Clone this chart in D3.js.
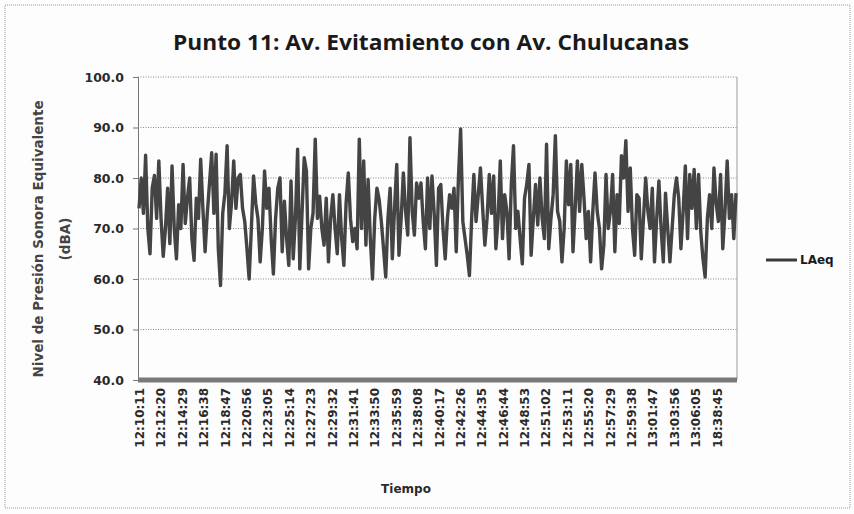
<!DOCTYPE html>
<html>
<head>
<meta charset="utf-8">
<script src="https://cdn.jsdelivr.net/npm/d3@7/dist/d3.min.js"></script>
<style>
  body { margin: 0; background: #fdfdfd; }
  svg { display: block; }
</style>
</head>
<body>
<svg id="chart" width="854" height="514"></svg>
<script>
/* Punto 11 - LAeq line chart */

// data
const chartTitle = "Punto 11: Av. Evitamiento con Av. Chulucanas";
const timeLabels = ["12:10:11", "12:12:20", "12:14:29", "12:16:38", "12:18:47", "12:20:56", "12:23:05",
    "12:25:14", "12:27:23", "12:29:32", "12:31:41", "12:33:50", "12:35:59", "12:38:08", "12:40:17",
    "12:42:26", "12:44:35", "12:46:44", "12:48:53", "12:51:02", "12:53:11", "12:55:20", "12:57:29",
    "12:59:38", "13:01:47", "13:03:56", "13:06:05", "18:38:45"];
const yTicks = [40, 50, 60, 70, 80, 90, 100];
const seriesName = "LAeq";
const laeq = [
    74, 80, 73, 84.5, 70, 65, 78, 80.5, 72, 83.4, 72, 64.5, 70, 78, 67, 82.4, 70, 64, 74.7, 70, 82.7, 71, 76,
    80, 68, 63.7, 76, 72, 83.7, 74, 65.4, 73, 79, 85, 73, 84.7, 66, 58.7, 73, 77, 86.4, 70, 75, 83.4, 74, 80,
    80.7, 74, 71.4, 66, 60, 70, 80.4, 75, 72, 63.4, 70, 81.4, 74, 78, 68, 61, 72, 78, 80, 65.4, 75.4, 68, 62.7,
    79.4, 64, 72, 85.7, 62, 73, 84, 81.4, 62, 70, 73, 87.7, 72, 76.4, 70, 66.7, 76, 63.4, 72, 76.7, 70, 65,
    76.7, 68, 62.7, 75, 81, 72, 67.4, 70, 66, 87.7, 70, 83.4, 66.7, 79.7, 68, 60, 72, 78, 75.8, 71.4, 66, 60.4,
    72, 78, 64, 74, 82.7, 64.7, 72, 81, 73.4, 68.7, 88, 73.4, 68.7, 79, 76, 79, 71.4, 66, 80, 70, 80.4, 73, 62.7, 78,
    78.7, 70, 64, 72, 76.7, 74, 78, 65.4, 80, 89.7, 71.4, 68, 64.7, 60.7, 72, 80.7, 71.4, 76.7, 82, 74, 66.7, 72,
    80.7, 73, 80.4, 66, 72, 83.4, 68, 76.7, 73.4, 64, 78.7, 86.4, 70, 73.4, 68, 63, 76, 78.7, 82.7, 64.7, 72, 78.7, 70.7,
    80, 72, 68, 86.7, 66, 72, 76.7, 88.4, 73.4, 71.4, 63.4, 70, 83.4, 74.7, 82.7, 65.4, 74, 83.4, 73.4, 82.7, 76,
    68, 73.4, 63.4, 73.4, 81, 73.4, 70, 62, 66.7, 80.7, 70, 73.4, 80.7, 65.4, 76.7, 71, 84.4, 80, 87.4, 73.4, 82, 70, 64.7, 76.7,
    76, 64, 72, 80, 73.4, 70, 78, 63.4, 72, 79.4, 70, 63.4, 77, 70, 63.4, 70, 76.7, 80, 76, 66, 73.4, 82.4, 68,
    80.7, 74, 81.7, 70, 80.7, 69.4, 64, 60.4, 72, 76.7, 70, 82, 75, 71.4, 80.7, 66, 73.4, 83.4, 72, 76.7, 68, 77
];

// layout
const svg = d3.select("svg#chart");
const plot = { left: 138, right: 737, top: 77, bottom: 380 };
const boldFont = "'DejaVu Sans', Verdana, sans-serif";

const x = d3.scaleLinear().domain([0, laeq.length - 1]).range([plot.left + 1, plot.right - 1]);
const y = d3.scaleLinear().domain([40, 100]).range([plot.bottom, plot.top]);
const xLabels = d3.scaleBand().domain(timeLabels).range([plot.left, plot.right]);

// outer dotted frame
svg.append("rect")
    .attr("x", 5).attr("y", 5).attr("width", 845).attr("height", 503)
    .attr("fill", "#fdfdfd")
    .attr("stroke", "#9a9a9a")
    .attr("stroke-dasharray", "1,1");

// title
svg.append("text")
    .attr("x", 431).attr("y", 50)
    .attr("text-anchor", "middle")
    .attr("textLength", 516)
    .attr("lengthAdjust", "spacingAndGlyphs")
    .style("font-family", "'Liberation Sans Narrow', 'Open Sans', 'Liberation Sans', sans-serif")
    .style("font-weight", "bold")
    .style("font-size", "21px")
    .attr("fill", "#1a1a1a")
    .text(chartTitle);

// gridlines
svg.append("g").selectAll("line")
    .data(yTicks.filter(d => d > 40))
    .join("line")
    .attr("x1", plot.left).attr("x2", plot.right)
    .attr("y1", d => y(d)).attr("y2", d => y(d))
    .attr("stroke", "#8a8a8a")
    .attr("stroke-width", 1)
    .attr("stroke-dasharray", "1,1.5");

// right border of plot area
svg.append("line")
    .attr("x1", plot.right).attr("x2", plot.right)
    .attr("y1", plot.top).attr("y2", plot.bottom)
    .attr("stroke", "#9a9a9a");

// y axis
const yAxis = svg.append("g")
    .attr("transform", `translate(${plot.left},0)`)
    .call(d3.axisLeft(y).tickValues(yTicks).tickSize(5).tickFormat(d3.format(".1f")));
yAxis.select(".domain").attr("stroke", "#777");
yAxis.selectAll(".tick line").attr("stroke", "#777");
yAxis.selectAll("text")
    .attr("x", -14)
    .style("font-family", boldFont)
    .style("font-weight", "bold")
    .style("font-size", "12.5px")
    .attr("fill", "#2a2a2a");

// data line
svg.append("path")
    .datum(laeq)
    .attr("d", d3.line().x((d, i) => x(i)).y(d => y(d)))
    .attr("fill", "none")
    .attr("stroke", "#444")
    .attr("stroke-width", 3.4)
    .attr("stroke-linejoin", "round");

// thick category axis line
svg.append("line")
    .attr("x1", plot.left).attr("x2", plot.right)
    .attr("y1", plot.bottom).attr("y2", plot.bottom)
    .attr("stroke", "#7a7a7a")
    .attr("stroke-width", 5);

// x labels (rotated)
svg.append("g").selectAll("text")
    .data(timeLabels)
    .join("text")
    .attr("transform", d => `translate(${xLabels(d) + 6},388) rotate(-90)`)
    .attr("text-anchor", "end")
    .style("font-family", boldFont)
    .style("font-weight", "bold")
    .style("font-size", "12px")
    .attr("fill", "#2a2a2a")
    .text(d => d);

// axis titles
svg.append("text")
    .attr("x", 406).attr("y", 493)
    .attr("text-anchor", "middle")
    .style("font-family", boldFont)
    .style("font-weight", "bold")
    .style("font-size", "12px")
    .attr("fill", "#2a2a2a")
    .text("Tiempo");

const yTitle = svg.append("text")
    .attr("transform", "translate(43,239) rotate(-90)")
    .attr("text-anchor", "middle")
    .style("font-family", boldFont)
    .style("font-weight", "bold")
    .style("font-size", "13.5px")
    .attr("fill", "#444");
yTitle.append("tspan").attr("x", 0).attr("dy", 0).text("Nivel  de Presión  Sonora Equivalente");
yTitle.append("tspan").attr("x", 0).attr("dy", 27).text("(dBA)");

// legend
svg.append("line")
    .attr("x1", 766).attr("x2", 797)
    .attr("y1", 260).attr("y2", 260)
    .attr("stroke", "#3a3a3a")
    .attr("stroke-width", 3);
svg.append("text")
    .attr("x", 800).attr("y", 264)
    .style("font-family", boldFont)
    .style("font-weight", "bold")
    .style("font-size", "12px")
    .attr("fill", "#1a1a1a")
    .text(seriesName);
</script>
</body>
</html>
